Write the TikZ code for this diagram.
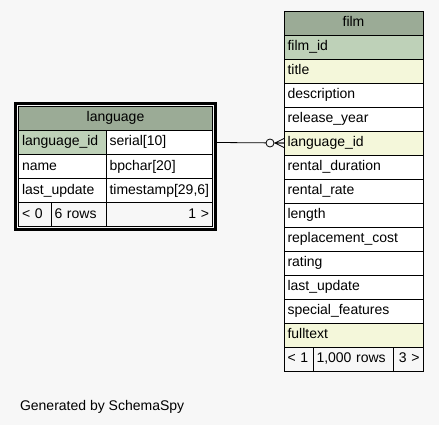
\documentclass[tikz,border=0pt]{standalone}
\usepackage{fontspec}
\setmainfont{Liberation Sans}
\usetikzlibrary{fit}
\definecolor{bgc}{HTML}{F7F7F7}
\definecolor{headc}{HTML}{9BAB96}
\definecolor{pkc}{HTML}{BED1B8}
\definecolor{idxc}{HTML}{F4F7DA}
\tikzset{
  cell/.style={draw, line width=.8pt, anchor=north west, outer sep=0pt, minimum height=24pt,
    inner xsep=3.5pt, inner ysep=0pt, text height=10pt, text depth=3pt, align=left, text width=#1},
  head/.style={cell=#1, fill=headc, align=center},
  odot/.style={circle, draw, line width=.8pt, fill=bgc, minimum size=8pt, inner sep=0pt},
  link/.style={line width=.8pt},
}
\begin{document}
\begin{tikzpicture}[x=1pt, y=-1pt, font=\fontsize{14}{16}\selectfont]
        \fill[bgc] (0, 0) rectangle (439, 425);
        \node[head=132pt] (film-head) at (284, 11) {film};
        \foreach \txt/\col [count=\i] in {film\_id/pkc, title/idxc, description/white, release\_year/white,
            language\_id/idxc, rental\_duration/white, rental\_rate/white, length/white, replacement\_cost/white,
            rating/white, last\_update/white, special\_features/white, fulltext/idxc}
        \node[cell=132pt, fill=\col] (film-\i) at (284, 11 + 24*\i) {\txt};
        \node[cell=22pt, fill=bgc] (film-foot1) at (284, 347) {< 1};
        \node[cell=73pt, fill=bgc] (film-foot2) at (313, 347) {1,000 rows};
        \node[cell=23pt, fill=bgc, align=right] (film-foot3) at (393, 347) {3 >};
        \node[head=187pt] (lang-head) at (18.5, 106.5) {language};
        \foreach \txt/\typ/\col [count=\i] in {language\_id/{serial[10]}/pkc, name/{bpchar[20]}/white,
            last\_update/{timestamp[29,6]}/white}
        {
        \node[cell=80.5pt, fill=\col] (lang-\i) at (18.5, 106.5 + 24*\i) {\txt};
        \node[cell=99.5pt, fill=white] (lang-type\i) at (106, 106.5 + 24*\i) {\typ};
        }
        \node[cell=25.5pt, fill=bgc] (lang-foot1) at (18.5, 202.5) {< 0};
        \node[cell=48pt, fill=bgc] (lang-foot2) at (51, 202.5) {6 rows};
        \node[cell=99.5pt, fill=bgc, align=right] (lang-foot3) at (106, 202.5) {1 >};
        \node[draw, line width=3pt, fit=(lang-head)(lang-foot3), inner xsep=3pt, inner ysep=3.2pt] (lang-frame) {};
        \draw[link] (lang-frame.east |- lang-type1.east) -- (film-5.west);
        \node[odot] (lang-odot) at (270, 143) {};
        \coordinate (crow-tip) at (275, 143);
        \draw[link] (crow-tip) -- ([yshift=4.5pt]film-5.west)
                    (crow-tip) -- (film-5.west)
                    (crow-tip) -- ([yshift=-4.5pt]film-5.west);
        \node[anchor=base west] (credit) at (16.5, 410) {Generated by SchemaSpy};
\end{tikzpicture}
\end{document}
